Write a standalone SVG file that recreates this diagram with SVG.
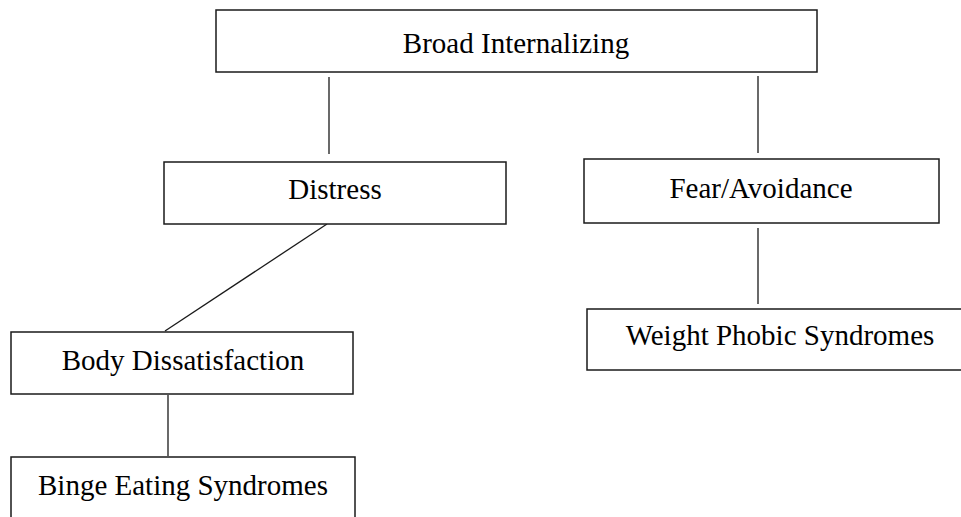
<svg xmlns="http://www.w3.org/2000/svg" width="961" height="517" viewBox="0 0 961 517">
<style>
.box{fill:#fff;stroke:#1a1a1a;stroke-width:1.5}
.lbl{font-family:"Liberation Serif","Times New Roman",serif;font-size:29px;fill:#000;text-anchor:middle}
.con{stroke:#1a1a1a;stroke-width:1.3;fill:none}
</style>
<rect width="961" height="517" fill="#fff"/>
<g id="connectors">
<line class="con" x1="329" y1="77" x2="329" y2="154"/>
<line class="con" x1="758" y1="76" x2="758" y2="153"/>
<line class="con" x1="327" y1="224" x2="165" y2="331"/>
<line class="con" x1="758" y1="228" x2="758" y2="304"/>
<line class="con" x1="168" y1="395" x2="168" y2="456"/>
</g>
<g id="broad">
<rect class="box" x="216" y="10" width="601" height="62"/>
<text class="lbl" x="516" y="53">Broad Internalizing</text>
</g>
<g id="distress">
<rect class="box" x="164" y="162" width="342" height="62"/>
<text class="lbl" x="335" y="199">Distress</text>
</g>
<g id="fear">
<rect class="box" x="584" y="159" width="355" height="64"/>
<text class="lbl" x="761" y="198">Fear/Avoidance</text>
</g>
<g id="weight">
<rect class="box" x="587" y="309" width="385" height="61"/>
<text class="lbl" x="780" y="345">Weight Phobic Syndromes</text>
</g>
<g id="body">
<rect class="box" x="11" y="332" width="342" height="62"/>
<text class="lbl" x="183" y="370">Body Dissatisfaction</text>
</g>
<g id="binge">
<rect class="box" x="11" y="457" width="344" height="80"/>
<text class="lbl" x="183" y="495">Binge Eating Syndromes</text>
</g>
</svg>
